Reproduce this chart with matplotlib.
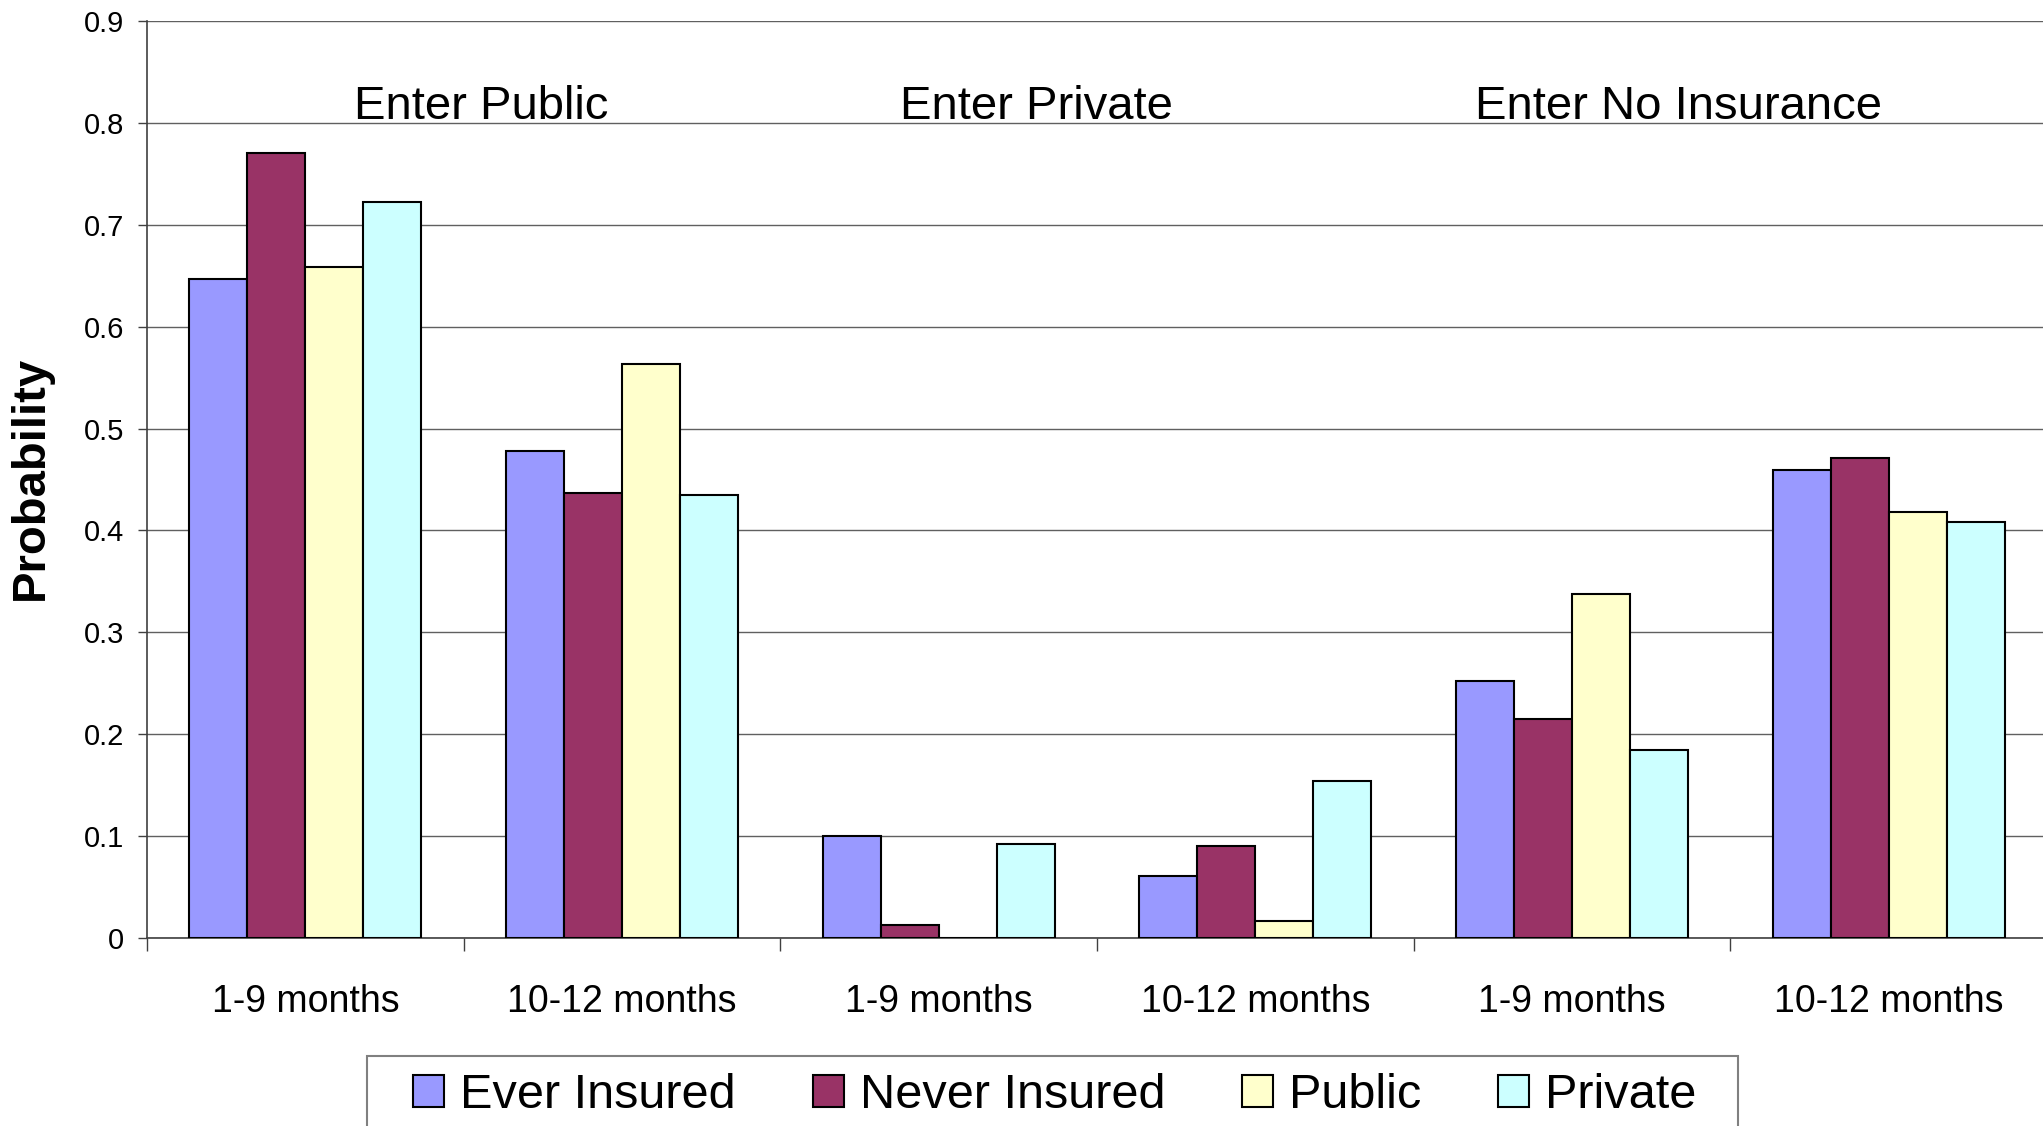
import numpy as np
import matplotlib
matplotlib.use("Agg")
import matplotlib.pyplot as plt
from matplotlib.patches import Rectangle
from matplotlib.ticker import FixedLocator, FuncFormatter

plt.rcParams["font.family"] = ["Liberation Sans", "DejaVu Sans"]

CATEGORIES = ["1-9 months", "10-12 months", "1-9 months",
              "10-12 months", "1-9 months", "10-12 months"]
GROUP_TITLES = ["Enter Public", "Enter Private", "Enter No Insurance"]

SERIES = ["Ever Insured", "Never Insured", "Public", "Private"]
EVER_INSURED = [0.647, 0.478, 0.100, 0.061, 0.252, 0.459]
NEVER_INSURED = [0.770, 0.437, 0.013, 0.090, 0.215, 0.471]
PUBLIC = [0.659, 0.563, 0.0, 0.017, 0.338, 0.418]
PRIVATE = [0.722, 0.435, 0.092, 0.154, 0.185, 0.408]

COLORS = ["#9999ff", "#993366", "#ffffcc", "#ccffff"]

W, H = 2043, 1126
fig = plt.figure(figsize=(W / 100, H / 100), dpi=100)
ax = fig.add_axes([147 / W, (H - 938) / H, 1900 / W, 917 / H])

x = np.arange(len(CATEGORIES))
bw = 0.1833
handles = []
for i, (name, vals, col) in enumerate(zip(SERIES,
                                          [EVER_INSURED, NEVER_INSURED, PUBLIC, PRIVATE],
                                          COLORS)):
    bars = ax.bar(x + (i - 1.5) * bw, vals, bw, color=col, edgecolor="black",
                  linewidth=1.5, label=name, zorder=3)
    handles.append(bars)

ax.set_xlim(-0.5, len(CATEGORIES) - 0.5)
ax.set_ylim(0, 0.9)
ax.set_yticks(np.arange(0, 0.91, 0.1))
ax.yaxis.set_major_formatter(FuncFormatter(lambda v, _: f"{v:g}"))
ax.yaxis.grid(True, color="#606060", linewidth=1.0, zorder=0)
ax.set_axisbelow(True)

ax.set_xticks(x)
ax.set_xticklabels(CATEGORIES, fontsize=27)
ax.xaxis.set_minor_locator(FixedLocator(np.arange(-0.5, len(CATEGORIES), 1.0)))
ax.tick_params(axis="x", which="major", length=0, pad=33)
ax.tick_params(axis="x", which="minor", length=9, width=1, color="#404040",
               direction="out")
ax.tick_params(axis="y", length=6.5, width=1, color="#404040", labelsize=21,
               pad=10)

for side in ("top", "right"):
    ax.spines[side].set_visible(False)
for side in ("left", "bottom"):
    ax.spines[side].set_color("#404040")
    ax.spines[side].set_linewidth(1.2)

ax.set_ylabel("Probability", fontsize=34, fontweight="bold", va="center",
              ha="center")
ax.yaxis.set_label_coords(-0.061, 0.502)

# section titles above each pair of categories
for xt, title in zip([0.555, 2.309, 4.337], GROUP_TITLES):
    ax.text(xt, 0.804, title, fontsize=34, ha="center", va="baseline")

# legend box runs off the lower edge of the figure
fig.patches.append(Rectangle((367 / W, -0.02), (1738 - 367) / W,
                             (H - 1056) / H + 0.02, transform=fig.transFigure,
                             fill=False, edgecolor="#808080", linewidth=1.5))
fig.legend(handles, SERIES, loc="upper left",
           bbox_to_anchor=(413 / W, 1 - 1073 / H), ncol=4, frameon=False,
           borderpad=0, borderaxespad=0, fontsize=35, handlelength=0.64,
           handleheight=0.64, handletextpad=0.33, columnspacing=1.58)

fig.savefig("out.png", dpi=100)
